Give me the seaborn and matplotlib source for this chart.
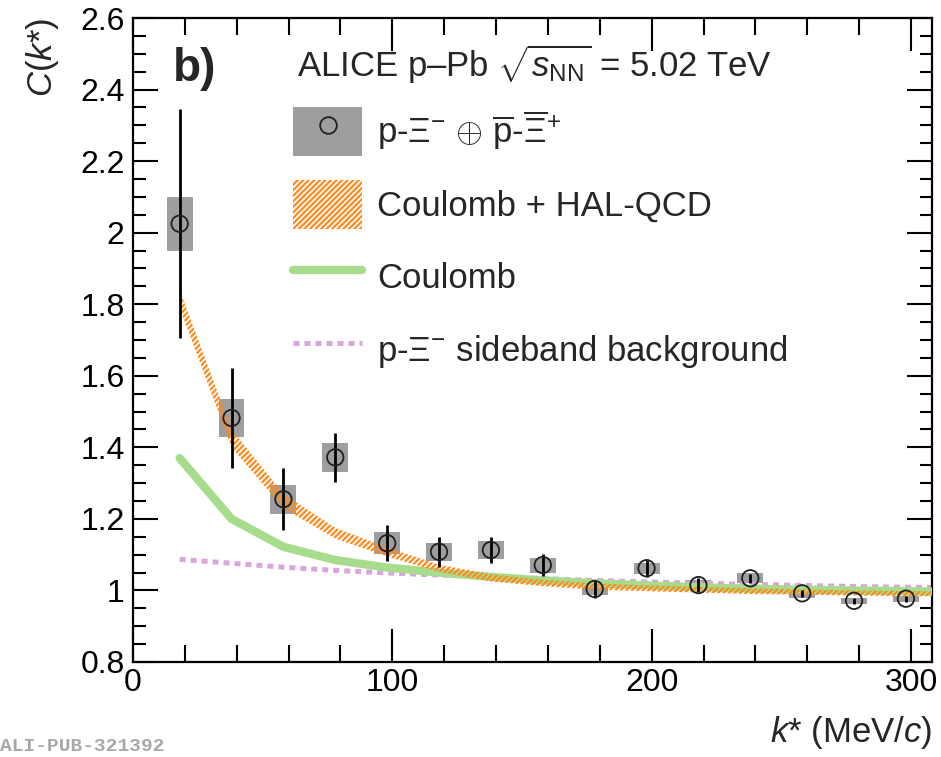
import matplotlib
matplotlib.use("Agg")
import numpy as np
import pandas as pd
import matplotlib.pyplot as plt
import seaborn as sns
from matplotlib.patches import Patch
from matplotlib.lines import Line2D
from matplotlib.legend_handler import HandlerTuple
from matplotlib.ticker import MultipleLocator

# ---------------- data ----------------
k_data = [18, 38, 58, 78, 98, 118, 138, 158, 178, 198, 218, 238, 258, 278, 298]
c_data = [2.025, 1.482, 1.255, 1.372, 1.132, 1.108, 1.113, 1.071, 1.004, 1.062,
          1.015, 1.034, 0.992, 0.971, 0.977]
stat_err = [0.32, 0.14, 0.087, 0.069, 0.05, 0.042, 0.037, 0.032, 0.026, 0.025,
            0.02, 0.012, 0.01, 0.008, 0.008]
syst_err = [0.075, 0.053, 0.04, 0.04, 0.03, 0.026, 0.025, 0.021, 0.018, 0.016,
            0.015, 0.0135, 0.014, 0.0085, 0.008]

k_model = [18, 38, 58, 78, 98, 118, 138, 158, 178, 198, 218, 238, 258, 278, 298, 308]
halqcd_hi = [1.84, 1.45, 1.27, 1.175, 1.12, 1.072, 1.045, 1.03, 1.02, 1.014,
             1.010, 1.006, 1.003, 1.000, 0.998, 0.997]
halqcd_lo = [1.79, 1.40, 1.23, 1.145, 1.095, 1.052, 1.025, 1.012, 1.002, 0.998,
             0.994, 0.990, 0.988, 0.986, 0.984, 0.984]
coulomb = [1.37, 1.20, 1.122, 1.085, 1.064, 1.05, 1.038, 1.028, 1.02, 1.014,
           1.009, 1.005, 1.002, 1.0, 0.998, 0.997]
sideband = [1.087, 1.076, 1.065, 1.056, 1.049, 1.043, 1.038, 1.033, 1.028, 1.024,
            1.020, 1.017, 1.014, 1.011, 1.009, 1.008]

y_ticks = [0.8, 1.0, 1.2, 1.4, 1.6, 1.8, 2.0, 2.2, 2.4, 2.6]
y_ticklabels = ["0.8", "1", "1.2", "1.4", "1.6", "1.8", "2", "2.2", "2.4", "2.6"]
x_ticks = [0, 100, 200, 300]
x_ticklabels = ["0", "100", "200", "300"]

labels = [r"p-$\Xi^{-}$ $\oplus$ $\overline{\mathrm{p}}$-$\overline{\Xi}^{+}$",
          "Coulomb + HAL-QCD", "Coulomb",
          r"p-$\Xi^{-}$ sideband background"]

# ---------------- style ----------------
sns.set_theme(style="ticks")
plt.rcParams["font.family"] = ["Liberation Sans", "DejaVu Sans"]
plt.rcParams["mathtext.fontset"] = "custom"
plt.rcParams["mathtext.rm"] = "Liberation Sans"
plt.rcParams["mathtext.it"] = "Liberation Sans:italic"
plt.rcParams["mathtext.bf"] = "Liberation Sans:bold"
plt.rcParams["hatch.linewidth"] = 1.6

FS_TICK = 23
FS = 25
GRAY = "#9e9e9e"
ORANGE = "#ff8a1e"
GREEN = "#a6dc8c"
PINK = "#d8a6dc"

df = pd.DataFrame({"k": k_data, "C": c_data, "stat": stat_err, "syst": syst_err})
dm = pd.DataFrame({"k": k_model, "hi": halqcd_hi, "lo": halqcd_lo,
                   "coul": coulomb, "side": sideband})

fig = plt.figure(figsize=(9.41, 7.57), dpi=100)
ax = fig.add_axes([0.1413, 0.1255, 0.849, 0.8507])

# systematic boxes
ax.bar(df["k"], 2 * df["syst"], bottom=df["C"] - df["syst"], width=10,
       color=GRAY, linewidth=0, zorder=1)

# models
sns.lineplot(data=dm, x="k", y="side", ax=ax, color=PINK, lw=3.6,
             dashes=False, zorder=2)
ax.lines[-1].set_dashes((1.2, 1.0))
ax.lines[-1].set_dash_capstyle("butt")
sns.lineplot(data=dm, x="k", y="coul", ax=ax, color=GREEN, lw=6, zorder=3)
ax.fill_between(dm["k"], dm["lo"], dm["hi"], facecolor="none",
                edgecolor=ORANGE, hatch="//////", linewidth=0, zorder=4)

# data
ax.errorbar(df["k"], df["C"], yerr=df["stat"], fmt="none", ecolor="black",
            elinewidth=2, capsize=0, zorder=5)
sns.scatterplot(data=df, x="k", y="C", ax=ax, marker="o", s=140,
                facecolor="none", edgecolor="#202020", linewidth=1.3, zorder=6)

# axes
ax.set_xlim(0, 308)
ax.set_ylim(0.8, 2.6)
ax.set_xticks(x_ticks)
ax.set_xticklabels(x_ticklabels)
ax.set_yticks(y_ticks)
ax.set_yticklabels(y_ticklabels)
ax.xaxis.set_minor_locator(MultipleLocator(20))
ax.yaxis.set_minor_locator(MultipleLocator(0.05))
ax.tick_params(axis="both", which="both", direction="in", top=True, right=True,
               width=1.5, colors="black", labelsize=FS_TICK)
ax.tick_params(axis="x", which="major", length=24, pad=4)
ax.tick_params(axis="x", which="minor", length=12)
ax.tick_params(axis="y", which="major", length=18, pad=6)
ax.tick_params(axis="y", which="minor", length=9)
for s in ax.spines.values():
    s.set_linewidth(1.6)
    s.set_color("black")

ax.set_xlabel(r"$k$* (MeV/$c$)", fontsize=FS, loc="right", labelpad=12)
ax.set_ylabel(r"$C$($k$*)", fontsize=FS, loc="top", labelpad=14)

# texts
ax.text(0.050, 0.902, "b)", transform=ax.transAxes, fontsize=33,
        fontweight="bold", va="baseline", ha="left")
ax.text(0.205, 0.908, r"ALICE p–Pb $\sqrt{s_{\mathrm{NN}}}$ = 5.02 TeV",
        transform=ax.transAxes, fontsize=FS, va="baseline", ha="left")
fig.text(0.0, 0.008, "ALI-PUB-321392", family="Liberation Mono",
         fontsize=14, fontweight="bold", color="#a8a8a8", ha="left",
         va="baseline")

# legend
h_data = (Patch(facecolor=GRAY, edgecolor="none"),
          Line2D([], [], marker="o", ls="none", mfc="none", mec="#202020",
                 ms=12, mew=1.3))
h_band = Patch(facecolor="white", edgecolor=ORANGE, hatch="//////", linewidth=0)
h_coul = Line2D([], [], color=GREEN, lw=6)
h_side = Line2D([], [], color=PINK, lw=3.6, dashes=(1.2, 1.0),
                dash_capstyle="butt")
leg = ax.legend([h_data, h_band, h_coul, h_side], labels,
                handler_map={tuple: HandlerTuple(ndivide=1, pad=0)},
                loc="upper left", bbox_to_anchor=(0.2003, 0.862), frameon=False,
                fontsize=FS, handlelength=2.0, handleheight=1.8,
                handletextpad=0.43, labelspacing=0.68, borderaxespad=0,
                borderpad=0)

fig.savefig("out.png", dpi=100)
